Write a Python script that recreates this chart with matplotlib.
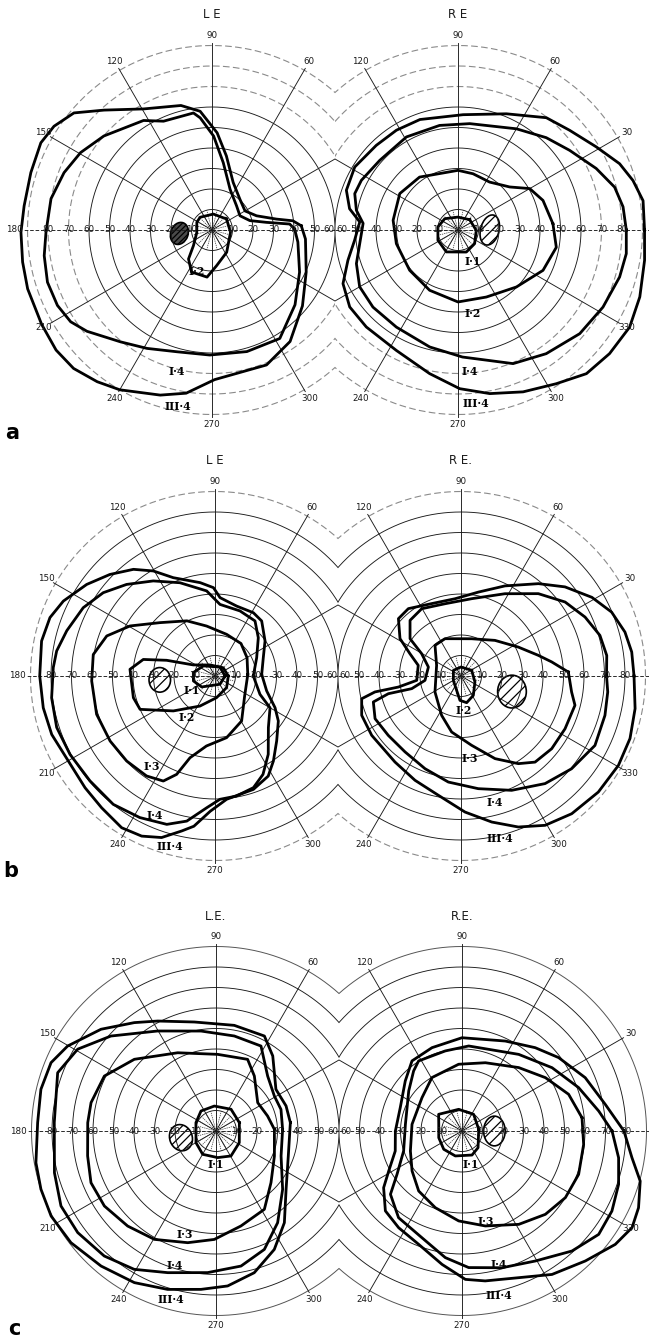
import numpy as np
import matplotlib
matplotlib.use("Agg")
import matplotlib.pyplot as plt
from matplotlib.patches import Ellipse, Rectangle
from matplotlib.transforms import IdentityTransform

plt.rcParams['font.family'] = ['DejaVu Sans']
plt.rcParams['hatch.linewidth'] = 0.9

# ---------------------------------------------------------------
# Isopters: (meridian in degrees, eccentricity in degrees)
# ---------------------------------------------------------------
# (a) left eye
A_LE_III4 = [(2.7, 43.6), (6.5, 39.7), (9.6, 31.9), (17.7, 22.8), (30, 18.6), (48, 20.3),
             (66, 25.4), (79, 36.8), (87, 47.5), (95.7, 58.2), (104, 62.6), (119.4, 67.8),
             (132, 78.7), (139.7, 88.3), (146.7, 92.2), (153, 93.7), (162.4, 92.7),
             (172.7, 92.4), (180.7, 93.2), (189.6, 93.7), (197.7, 94.4), (209, 95),
             (217.6, 96), (225, 95.5), (232.9, 92.8), (240, 90), (252.6, 84.4),
             (261, 80.6), (271, 73), (292, 71), (305, 66.4), (320, 57.6), (336, 50.3),
             (354.5, 45.8)]
A_LE_I4 = [(0.7, 40.3), (4.4, 38), (8, 26.8), (14, 19), (27, 15.3), (44.5, 16.8), (66, 21.7),
           (80.5, 33.3), (89, 45.8), (96, 55), (99, 57.8), (114, 58.1), (122, 63),
           (139, 69.9), (149.5, 74.4), (158.8, 77.4), (169, 80), (180.8, 81),
           (188.7, 82.8), (197.6, 84.2), (206, 83.9), (213, 82.2), (219, 78.5),
           (230.7, 70.5), (241.2, 65.9), (254, 61.8), (269, 61), (286, 61.7),
           (302, 62.4), (318, 54.5), (334.3, 47.4), (352, 42.3)]
A_LE_I2 = [(37, 8.9), (85, 7.8), (133, 8.5), (153, 8.3), (189, 7.5), (220, 11.8),
           (231, 18.2), (244, 22.8), (264, 23.1), (277.5, 17.5), (303.4, 13), (353, 9.1)]

# (a) right eye
A_RE_III4 = [(0, 91), (9, 91.4), (15.8, 88.7), (22.3, 85.2), (31, 78.7), (41.8, 73),
             (51.8, 69.7), (67.4, 61.4), (87.5, 56.3), (109, 57), (121.7, 57.2),
             (134, 57.4), (148.6, 59), (160.4, 57.8), (168.9, 53.9), (175.3, 48.1),
             (185.7, 50.7), (195.4, 55.7), (205, 61.9), (215.4, 64.8), (226.6, 65.1),
             (242.9, 66), (258.8, 71.4), (270.6, 77.4), (281, 81.3), (291.9, 85.1),
             (302.6, 89), (311.8, 94), (320.8, 95.4), (330.5, 96.2), (339.8, 94.5),
             (350.8, 92.2)]
A_RE_I4 = [(0, 82.1), (8, 81.3), (15.3, 79.2), (24, 73.8), (35.5, 66.9), (46.3, 62.3),
           (60, 57), (83.7, 52.2), (100, 51.8), (119, 51.9), (138.4, 51.1), (152.8, 53),
           (160.6, 53.4), (169, 50.5), (176, 46.4), (187.9, 48.4), (198.3, 52.2),
           (210, 55.4), (222.2, 56), (237.6, 56.1), (256.4, 58.7), (272, 62),
           (292.4, 70.5), (305.5, 74.1), (319.6, 78), (332, 80.1), (343.8, 82.1),
           (352, 82.9)]
A_RE_I2 = [(3.8, 46.4), (19.2, 43.9), (30, 40.4), (39.8, 32.8), (56.6, 28), (75, 28.4),
           (90, 29.1), (126, 31.9), (148, 33.5), (171.5, 32), (192.5, 30.8), (219.8, 30.7),
           (244.8, 32.5), (270, 35.1), (292.9, 35.5), (315.7, 39.8), (334.6, 45.9),
           (350, 48.7)]
A_RE_I1 = [(41.5, 7.6), (90, 6.3), (139.6, 8.5), (171.5, 9.9), (207, 11), (242, 12.1),
           (290.7, 11.5), (320.6, 10.5), (359, 8.9)]

# (b) left eye
B_LE_III4 = [(2, 22.8), (20.8, 25.2), (35, 29.8), (49.7, 35.2), (58.8, 36.1), (72.8, 35.7),
             (86.3, 38.3), (91, 43.1), (99, 46.1), (113, 52.1), (120.4, 59.4),
             (127.4, 65.5), (136, 71.3), (144.5, 76.9), (153.7, 82.5), (160.5, 85.4),
             (168.6, 86.3), (180, 85.5), (190.5, 85.2), (199.7, 84.6), (210, 82.7),
             (220.7, 83.6), (229.3, 84.8), (238.4, 86.9), (245.4, 85.9), (251.7, 83),
             (257.9, 77.3), (262, 74), (268, 66), (275.4, 60.4), (288.7, 58.4),
             (298, 55.3), (304.5, 50.3), (313.5, 43.7), (324.6, 37.9), (332.2, 33.1),
             (344, 26.2)]
B_LE_I4 = [(0, 18.7), (23.7, 22.2), (41.5, 28.2), (54, 33.2), (69, 34), (86, 35),
           (95.6, 41.7), (110.6, 48.6), (123, 55.3), (134, 62.1), (143.3, 68),
           (152.6, 72.4), (163, 75.6), (171, 78.2), (177, 79), (187.6, 80.4), (198, 81.2),
           (208.4, 80.4), (220, 79.6), (231.6, 79.9), (242, 78.2), (252, 76.1),
           (259, 72.1), (266.4, 64.4), (272.3, 60.2), (280, 59.5), (289, 57.6),
           (296, 53.4), (304.2, 46.2), (316, 36.2), (330, 31), (337.8, 23.7)]
B_LE_I3 = [(2.5, 16), (29.7, 18), (51.3, 20.3), (74.4, 21.1), (99.5, 24.7), (117, 30.2),
           (135.9, 37.4), (149.5, 48.1), (159.7, 56.3), (170, 60.3), (182.3, 60.2),
           (197.9, 60.7), (211.8, 60.2), (223.9, 59.8), (235.6, 59.1), (243.8, 57.1),
           (248.7, 51.5), (253, 41.7), (263, 34.4), (280.7, 30.6), (300.6, 25.5),
           (325.6, 17.5)]
B_LE_I2 = [(0, 6.5), (45, 5.7), (114, 5.9), (153, 11.9), (162, 24.8), (167, 35.9),
           (175.5, 41.6), (194.9, 41.2), (204, 40), (220, 26.5), (243.4, 16.4),
           (274, 10.6), (315, 8)]
B_LE_I1 = [(0, 4.9), (61, 5), (139, 7.5), (171, 10.7), (193, 10.8), (219.5, 8.4),
           (301, 4.7)]

# (b) right eye
B_RE_III4 = [(0, 84.4), (8, 84.1), (15, 82.8), (23, 79.8), (31, 74.5), (40.6, 66.8),
             (50, 58.8), (64, 48.9), (78.3, 41.8), (94.4, 37.8), (112, 38.1), (128, 41.7),
             (137.5, 41.4), (148.5, 34.9), (156.4, 27.2), (166, 21.5), (185.6, 21.7),
             (190, 31), (190.5, 42.7), (192.9, 49.7), (201.6, 52.1), (213.6, 52.3),
             (232.5, 52.9), (246.2, 55.6), (259.2, 59.2), (271.7, 66.4), (281.9, 72.8),
             (290.8, 78.8), (299.4, 83.6), (308.8, 86.2), (319.8, 87.7), (330.4, 88.3),
             (339.7, 87.9), (349.4, 86.4)]
B_RE_I4 = [(0, 71), (8, 71.8), (16.3, 70.6), (25.4, 67), (35.4, 62.3), (46.8, 55.1),
           (61.9, 45.5), (82, 38.1), (102.5, 36.1), (120.3, 38), (132.5, 36.8),
           (143.8, 30.8), (150.4, 22.1), (164.6, 16.5), (186.9, 17.7), (194.4, 24.8),
           (193.7, 36.5), (196.5, 44.6), (206.4, 46.8), (219.2, 45.8), (233.6, 46),
           (248.8, 48.5), (263.2, 52.1), (278.7, 55.6), (293.9, 61), (308, 66.6),
           (320, 70.4), (332.6, 73.6), (344.7, 72.8), (353.8, 72)]
B_RE_I3 = [(2.1, 52.4), (8.8, 44.8), (15, 39), (26.8, 31.3), (46.4, 24), (74, 18.9),
           (113.2, 19.8), (130.3, 19.6), (156.3, 13), (211.6, 14.9), (243.8, 21.4),
           (260.5, 27.7), (278.7, 34.2), (292.4, 43.6), (303.2, 51.1), (310.7, 55.4),
           (321.3, 56.7), (333.1, 56.9), (345.6, 57.4), (351.8, 54.5)]
B_RE_I2 = [(28, 5.9), (90, 4.4), (143.5, 4.6), (209.5, 4.3), (253, 7.3), (267.6, 11.9),
           (282, 13.3), (302.5, 11.2), (336.8, 7.4)]

# (c) left eye
C_LE_III4 = [(6.4, 36.5), (19.7, 36.3), (34.8, 35.6), (52.9, 45.9), (63, 52), (80.2, 52.3),
             (101.2, 54.2), (117.9, 60.7), (127, 66.2), (138.5, 74.9), (150.2, 83.4),
             (157.5, 87.1), (166.6, 87.8), (177.3, 87.1), (190, 89.2), (198.4, 90),
             (207.3, 90.5), (217.6, 89.3), (229.6, 86.5), (241.7, 84), (253, 80.8),
             (264.6, 77.6), (274.3, 75.8), (285.1, 71.6), (296.2, 64.4), (306.7, 55.8),
             (320.2, 44.5), (341, 37.3)]
C_LE_I4 = [(1.4, 32.5), (18.4, 33.4), (31, 33.2), (46.8, 36.8), (62.1, 46.9), (79.1, 47.2),
           (98.5, 49.3), (120.3, 56.5), (137.9, 69.1), (149.4, 78.4), (159.8, 82.3),
           (177, 79), (194.5, 81.4), (205.8, 84), (216.3, 83.7), (228.2, 81.8),
           (239.4, 78.4), (251.2, 73), (266.6, 69.2), (280.5, 67), (292.2, 62.4),
           (303.9, 53.9), (318.8, 43.2), (339, 34)]
C_LE_I3 = [(1.6, 28.5), (16.2, 26.2), (34.2, 24.6), (55.1, 32.7), (66.2, 38.2), (88.8, 37.4),
           (116.1, 42.5), (138.7, 53), (153.8, 60.7), (167.2, 62.5), (176.3, 62.7),
           (191, 63.8), (202.5, 66), (213.9, 65.6), (227.1, 63.3), (240.4, 60.8),
           (255.8, 56.2), (269.1, 52.9), (284.7, 47.9), (301.7, 44.9), (316.8, 36.8),
           (336.8, 31)]
C_LE_I1 = [(19.7, 12.1), (55.3, 12.9), (93.8, 12.2), (126.9, 12.2), (157.4, 10.6),
           (210.3, 11.3), (240.3, 13.1), (273.6, 13), (301, 14.2), (333.4, 12.7)]

# (c) right eye
C_RE_III4 = [(0, 79), (10.5, 71.1), (23.4, 65.5), (37.2, 59.2), (48.7, 54.1), (64.3, 48.7),
             (90, 45.5), (109.8, 43.2), (125.5, 42), (138.6, 36.9), (159.3, 32.2),
             (180, 32.5), (196.7, 34), (208.6, 40.7), (215.9, 47.2), (226.2, 54),
             (236.8, 56.4), (249.1, 59.2), (261.5, 65.8), (271.3, 72.4), (278.8, 74),
             (291.1, 76.7), (302.1, 82.6), (313.5, 87.4), (323.5, 93), (330.4, 95.4),
             (336.5, 93.9), (344.3, 90.3), (351.1, 83.9)]
C_RE_I4 = [(0, 73.2), (8.3, 67.4), (20.4, 60.7), (35.1, 53.7), (53.5, 46.5), (85.5, 41.6),
           (101.8, 39.9), (121.8, 40.2), (128.9, 37.6), (143.1, 32.5), (173.3, 27.8),
           (198.9, 30.1), (213.7, 38.1), (221.5, 46.6), (233.8, 52.4), (249.4, 55.6),
           (262.5, 62.3), (272.8, 66.7), (286.3, 69.5), (299.4, 72.8), (312.5, 79.4),
           (322.9, 83.6), (331.9, 82.9), (341.2, 80.7), (350.3, 77.5)]
C_RE_I3 = [(6.3, 58.9), (19, 55), (32.6, 48.3), (48.2, 41.5), (71.1, 35.2), (92.9, 32.6),
           (119.4, 29.9), (140.2, 25.4), (172.4, 24.6), (201.2, 27), (218.7, 31.2),
           (234.2, 36.1), (250.8, 39.6), (267.9, 43.9), (283.8, 47.7), (301.3, 53.3),
           (315, 57.5), (327.2, 60), (339.6, 60.7), (353.7, 59.7)]
C_RE_I1 = [(5.7, 8.2), (55, 9.9), (98.7, 10.7), (144.5, 14), (164, 11.8), (196, 11.8),
           (225, 12.6), (255, 12.6), (292.6, 12.7), (313.8, 11.3)]

# Blind spots: (eccentricity, meridian, width deg, height deg, tilt deg)
A_LE_SPOT = (16, 186, 8.5, 11, -20)
A_RE_SPOT = (15.5, 0, 9, 15, -15)
B_LE_SPOT = (27, 184, 10.5, 12, 0)
B_RE_SPOT = (26, 343, 14, 16, 0)
C_LE_SPOT = (17.4, 190.8, 11, 13, 20)
C_RE_SPOT = (15.8, 0, 10.5, 14.5, 0)

# Isopter labels: (text, eccentricity, meridian)
A_LE_TAGS = [("I·2", 21.6, 250), ("I·4", 71, 256), ("III·4", 87.5, 259)]
A_RE_TAGS = [("I·1", 17.2, 295), ("I·2", 41.5, 280), ("I·4", 69.5, 274.7), ("III·4", 85.2, 276)]
B_LE_TAGS = [("I·1", 13.5, 212.7), ("I·2", 24.6, 235.8), ("I·3", 53.7, 234.9),
             ("I·4", 74.3, 246.8), ("III·4", 85.8, 255.2)]
B_RE_TAGS = [("I·2", 16.8, 274), ("I·3", 40.6, 276), ("I·4", 63.7, 285), ("III·4", 81.6, 283.5)]
C_LE_TAGS = [("I·1", 16.3, 270), ("I·3", 52.7, 253), ("I·4", 68.9, 252.8), ("III·4", 85, 255)]
C_RE_TAGS = [("I·1", 16.8, 284), ("I·3", 45.4, 284.5), ("I·4", 67.5, 285.4), ("III·4", 82.4, 282.5)]

# Chart furniture
RING_RADII = [10, 20, 30, 40, 50, 60, 70, 80, 90]
SPOKES = list(range(0, 360, 30))
CENTRE_SPOKES = list(range(0, 360, 15))
NASAL_NUMBERS = [10, 20, 30, 40, 50, 60]
TEMPORAL_NUMBERS = [10, 20, 30, 40, 50, 60, 70, 80]
LE_MERIDIANS = [60, 90, 120, 150, 180, 210, 240, 270, 300]
RE_MERIDIANS = [30, 60, 90, 120, 240, 270, 300, 330]

# ---------------------------------------------------------------
FIG_W, FIG_H, DPI = 649, 1342, 100
PX_PER_DEG = 2.05
R_LIM = 100.0

fig = plt.figure(figsize=(FIG_W / DPI, FIG_H / DPI), dpi=DPI)
fig.patch.set_facecolor('white')

INK = '#1a1a1a'


def polar_axes(cx, cy):
    R = R_LIM * PX_PER_DEG
    ax = fig.add_axes([(cx - R) / FIG_W, (FIG_H - cy - R) / FIG_H, 2 * R / FIG_W, 2 * R / FIG_H],
                      projection='polar')
    ax.set_ylim(0, R_LIM)
    ax.set_axis_off()
    return ax


def half_plane(side, mid):
    if side == 'L':
        return Rectangle((0, 0), mid, FIG_H, transform=IdentityTransform())
    return Rectangle((mid, 0), FIG_W - mid, FIG_H, transform=IdentityTransform())


def draw_grid(ax, side, mid, faint_rings):
    clip = half_plane(side, mid)
    th = np.linspace(0, 2 * np.pi, 721)
    for r in RING_RADII:
        if r in faint_rings:
            ln, = ax.plot(th, np.full_like(th, r), color='#8a8a8a', lw=0.8, ls=(0, (6, 3)))
        elif r == 90:
            ln, = ax.plot(th, np.full_like(th, r), color='#555555', lw=0.7)
        else:
            ln, = ax.plot(th, np.full_like(th, r), color=INK, lw=0.65)
        ln.set_clip_path(clip)
    far = 180 if side == 'L' else 0
    for a in SPOKES:
        t = np.radians(a)
        if a in (0, 180):
            end = (97 if side == 'R' else 92) if a == far else R_LIM
            ln, = ax.plot([t, t], [0, end], color=INK, lw=0.65, ls=(0, (4, 2)))
        else:
            ln, = ax.plot([t, t], [0, 91], color=INK, lw=0.65)
        ln.set_clip_path(clip)
    for a in CENTRE_SPOKES:
        t = np.radians(a)
        ln, = ax.plot([t, t], [0, 10], color=INK, lw=0.45, ls=(0, (2, 1.5)))
        ln.set_clip_path(clip)
    # numbers along the horizontal meridian
    near, far_side = (0, 180) if side == 'L' else (180, 0)
    for v in NASAL_NUMBERS:
        rr = 56.8 if v == 60 else v
        ax.text(np.radians(near), rr, str(v), ha='center', va='center', fontsize=6.3,
                color=INK)
    for v in TEMPORAL_NUMBERS:
        ax.text(np.radians(far_side), v, str(v), ha='center', va='center', fontsize=6.3,
                color=INK)
    labels = LE_MERIDIANS if side == 'L' else RE_MERIDIANS
    for a in labels:
        rr = 96.5 if a == 180 else 95
        ax.text(np.radians(a), rr, str(a), ha='center', va='center', fontsize=6.3, color=INK)


def draw_isopter(ax, pts):
    ang = [p[0] for p in pts] + [pts[0][0]]
    ecc = [p[1] for p in pts] + [pts[0][1]]
    ax.plot(np.radians(ang), ecc, color='black', lw=2.0, solid_joinstyle='round',
            clip_on=False)


def draw_spot(ax, spot, hatch, face):
    ecc, mer, w, h, tilt = spot
    t = np.radians(mer)
    e = Ellipse((ecc * np.cos(t), ecc * np.sin(t)), w, h, angle=tilt,
                transform=ax.transProjectionAffine + ax.transWedge + ax.transAxes,
                facecolor=face, edgecolor='black', hatch=hatch, lw=1.2)
    ax.add_patch(e)


def draw_tags(ax, tags):
    for s, ecc, mer in tags:
        ax.text(np.radians(mer), ecc, s, ha='center', va='center', fontsize=7.8,
                fontweight='bold', family='DejaVu Serif', color='black')


ROWS = [
    dict(mid=335, cy=230, letter='a', letter_xy=(12, 433), titles=('L E', 'R E'), title_y=14,
         faint=(70, 80, 90),
         left=dict(iso=[A_LE_III4, A_LE_I4, A_LE_I2], spot=A_LE_SPOT, tags=A_LE_TAGS,
                   hatch='//////', face='#4a4a4a'),
         right=dict(iso=[A_RE_III4, A_RE_I4, A_RE_I2, A_RE_I1], spot=A_RE_SPOT, tags=A_RE_TAGS,
                    hatch='///', face='white')),
    dict(mid=338, cy=676, letter='b', letter_xy=(11, 871), titles=('L E', 'R E.'), title_y=461,
         faint=(90,),
         left=dict(iso=[B_LE_III4, B_LE_I4, B_LE_I3, B_LE_I2, B_LE_I1], spot=B_LE_SPOT,
                   tags=B_LE_TAGS, hatch='///', face='white'),
         right=dict(iso=[B_RE_III4, B_RE_I4, B_RE_I3, B_RE_I2], spot=B_RE_SPOT, tags=B_RE_TAGS,
                    hatch='///', face='white')),
    dict(mid=339, cy=1131, letter='c', letter_xy=(14, 1329), titles=('L.E.', 'R.E.'), title_y=916,
         faint=(),
         left=dict(iso=[C_LE_III4, C_LE_I4, C_LE_I3, C_LE_I1], spot=C_LE_SPOT, tags=C_LE_TAGS,
                   hatch='////', face='white'),
         right=dict(iso=[C_RE_III4, C_RE_I4, C_RE_I3, C_RE_I1], spot=C_RE_SPOT, tags=C_RE_TAGS,
                    hatch='///', face='white')),
]

offset = 60 * PX_PER_DEG
for row in ROWS:
    for side, key, cx, title in (('L', 'left', row['mid'] - offset, row['titles'][0]),
                                 ('R', 'right', row['mid'] + offset, row['titles'][1])):
        ax = polar_axes(cx, row['cy'])
        draw_grid(ax, side, row['mid'], row['faint'])
        panel = row[key]
        draw_spot(ax, panel['spot'], panel['hatch'], panel['face'])
        for iso in panel['iso']:
            draw_isopter(ax, iso)
        draw_tags(ax, panel['tags'])
        fig.text(cx / FIG_W, 1 - row['title_y'] / FIG_H, title, ha='center', va='center',
                 fontsize=8.5, color=INK)
    lx, ly = row['letter_xy']
    fig.text(lx / FIG_W, 1 - ly / FIG_H, row['letter'], ha='center', va='center',
             fontsize=15, fontweight='bold', color='black')

fig.savefig('out.png', dpi=DPI, facecolor='white')
